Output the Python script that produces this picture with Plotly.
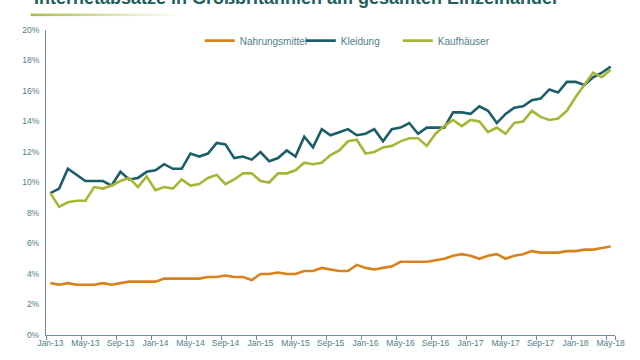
import plotly.graph_objects as go

months = ["Jan", "Feb", "Mar", "Apr", "May", "Jun", "Jul", "Aug", "Sep", "Oct", "Nov", "Dec"]
years = ["13", "14", "15", "16", "17", "18"]
categories = [f"{m}-{y}" for y in years for m in months][:65]  # Jan-13 .. May-18
tick_labels = categories[::4]

nahrungsmittel = [3.4, 3.3, 3.4, 3.3, 3.3, 3.3, 3.4, 3.3, 3.4, 3.5, 3.5, 3.5, 3.5,
                  3.7, 3.7, 3.7, 3.7, 3.7, 3.8, 3.8, 3.9, 3.8, 3.8, 3.6, 4.0, 4.0,
                  4.1, 4.0, 4.0, 4.2, 4.2, 4.4, 4.3, 4.2, 4.2, 4.6, 4.4, 4.3, 4.4,
                  4.5, 4.8, 4.8, 4.8, 4.8, 4.9, 5.0, 5.2, 5.3, 5.2, 5.0, 5.2, 5.3,
                  5.0, 5.2, 5.3, 5.5, 5.4, 5.4, 5.4, 5.5, 5.5, 5.6, 5.6, 5.7, 5.8]
kleidung = [9.3, 9.6, 10.9, 10.5, 10.1, 10.1, 10.1, 9.8, 10.7, 10.2, 10.3, 10.7, 10.8,
            11.2, 10.9, 10.9, 11.9, 11.7, 11.9, 12.6, 12.5, 11.6, 11.7, 11.5, 12.0,
            11.4, 11.6, 12.1, 11.7, 13.0, 12.3, 13.5, 13.1, 13.3, 13.5, 13.1, 13.2,
            13.5, 12.7, 13.5, 13.6, 13.9, 13.2, 13.6, 13.6, 13.6, 14.6, 14.6, 14.5,
            15.0, 14.7, 13.9, 14.5, 14.9, 15.0, 15.4, 15.5, 16.1, 15.9, 16.6, 16.6,
            16.4, 16.9, 17.2, 17.6]
kaufhaeuser = [9.3, 8.4, 8.7, 8.8, 8.8, 9.7, 9.6, 9.8, 10.1, 10.3, 9.7, 10.4, 9.5,
               9.7, 9.6, 10.2, 9.8, 9.9, 10.3, 10.5, 9.9, 10.2, 10.6, 10.6, 10.1,
               10.0, 10.6, 10.6, 10.8, 11.3, 11.2, 11.3, 11.8, 12.1, 12.7, 12.8, 11.9,
               12.0, 12.3, 12.4, 12.7, 12.9, 12.9, 12.4, 13.2, 13.7, 14.1, 13.7, 14.1,
               14.0, 13.3, 13.6, 13.2, 13.9, 14.0, 14.7, 14.3, 14.1, 14.2, 14.7, 15.6,
               16.4, 17.2, 16.9, 17.4]

y_ticks = list(range(0, 21, 2))

ORANGE = "#D9821C"
TEAL = "#1B5E6A"
OLIVE = "#A7B636"
TXT = "#4E7E88"
AXIS = "#6A8F95"
FONT = "Liberation Sans, Arial, sans-serif"

# plot area in pixels
L, R, T, B = 46.3, 615.1, 30.0, 337.0


def px_x(p):
    return (p - L) / (R - L)


def px_y(p):
    return (B - p) / (B - T)


fig = go.Figure()
series = [("Nahrungsmittel", nahrungsmittel, ORANGE, "legend"),
          ("Kleidung", kleidung, TEAL, "legend2"),
          ("Kaufhäuser", kaufhaeuser, OLIVE, "legend3")]
for name, vals, col, lg in series:
    fig.add_trace(go.Scatter(x=categories, y=vals, mode="lines", name=name,
                             line=dict(color=col, width=2.6), legend=lg,
                             hoverinfo="skip"))

leg_common = dict(orientation="h", xanchor="left", yanchor="middle",
                  font=dict(family=FONT, size=10, color=TXT),
                  bgcolor="rgba(0,0,0,0)", borderwidth=0)
fig.update_layout(
    legend=dict(x=px_x(200), y=px_y(40.7), **leg_common),
    legend2=dict(x=px_x(301), y=px_y(40.7), **leg_common),
    legend3=dict(x=px_x(398), y=px_y(40.7), **leg_common),
)

# title (partly cut off at top) and decorative gradient bar
fig.add_annotation(text="<b>Internetabsätze in Großbritannien am gesamten Einzelhandel</b>",
                   xref="paper", yref="paper", x=px_x(32), y=px_y(-2.5),
                   xanchor="left", yanchor="middle", showarrow=False,
                   font=dict(family=FONT, size=18, color="#1D5F5C"))
n_seg = 40
x0, x1 = 31, 188
for k in range(n_seg):
    a = x0 + (x1 - x0) * k / n_seg
    b = x0 + (x1 - x0) * (k + 1) / n_seg
    fig.add_shape(type="rect", xref="paper", yref="paper",
                  x0=px_x(a), x1=px_x(b), y0=px_y(16), y1=px_y(13.5),
                  line=dict(width=0), fillcolor=OLIVE, opacity=max(0.0, 1 - k / n_seg) ** 1.3,
                  layer="above")

fig.update_xaxes(type="category", range=[-0.5, 64.5], tickmode="array",
                 tickvals=tick_labels, ticktext=tick_labels, tickson="boundaries",
                 showline=True, linecolor=AXIS, linewidth=1.2, ticks="outside",
                 ticklen=4, tickcolor=AXIS, showgrid=False, zeroline=False,
                 tickangle=0, tickfont=dict(family=FONT, size=8.5, color=TXT))
fig.update_yaxes(range=[0, 20], tickmode="array", tickvals=y_ticks,
                 ticktext=[f"{v}%" for v in y_ticks], showline=True,
                 linecolor=AXIS, linewidth=1.2, ticks="", showgrid=False,
                 zeroline=False, ticklabelstandoff=4,
                 tickfont=dict(family=FONT, size=8.5, color=TXT))

fig.update_layout(width=640, height=360, paper_bgcolor="white", plot_bgcolor="white",
                  margin=dict(l=L, r=640 - R, t=T, b=360 - B), showlegend=True)

fig.write_html("out.html", config={"displayModeBar": False},
               post_script="document.body.style.margin='0';document.body.style.overflow='hidden';")
